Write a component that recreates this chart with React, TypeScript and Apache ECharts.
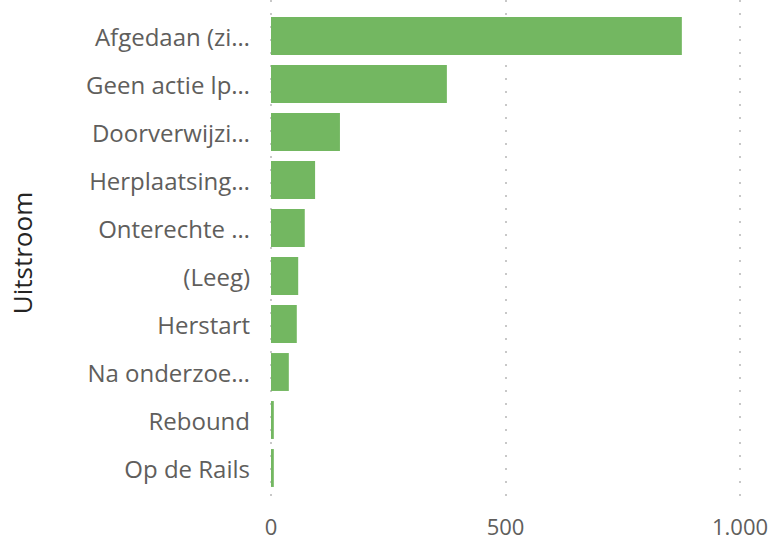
import React, { useEffect, useRef } from "react";
import * as echarts from "echarts";

const categories = [
  "Afgedaan (zi…",
  "Geen actie lp…",
  "Doorverwijzi…",
  "Herplaatsing…",
  "Onterechte …",
  "(Leeg)",
  "Herstart",
  "Na onderzoe…",
  "Rebound",
  "Op de Rails",
];
const values = [876, 375, 147, 94, 72, 58, 55, 38, 6, 6];
const axisTitle = "Uitstroom";
const xTicks = [0, 500, 1000];

const FONT = "'Open Sans', 'Noto Sans', sans-serif";

export default function App() {
  const ref = useRef<HTMLDivElement>(null);
  useEffect(() => {
    if (!ref.current) return;
    const chart = echarts.init(ref.current, null, { renderer: "svg" });
    chart.setOption({
      animation: false,
      backgroundColor: "#ffffff",
      grid: [
        { left: 271, right: 36, top: 12, bottom: 55, containLabel: false },
        { left: 271, right: 36, top: 0, bottom: 41, containLabel: false },
      ],
      xAxis: [
        { type: "value", gridIndex: 0, min: 0, max: 1000, show: false },
        {
          type: "value",
          gridIndex: 1,
          min: xTicks[0],
          max: xTicks[xTicks.length - 1],
          interval: 500,
          axisLine: { show: false },
          axisTick: { show: false },
          axisLabel: {
            color: "#605e5c",
            fontSize: 22,
            fontFamily: FONT,
            margin: 9,
            formatter: (v: number) => v.toLocaleString("de-DE"),
          },
          splitLine: {
            show: true,
            lineStyle: { color: "#c8c8c8", width: 2, type: [2, 11] },
          },
        },
      ],
      yAxis: [
        {
          type: "category",
          gridIndex: 0,
          data: categories,
          inverse: true,
          axisLine: { show: false },
          axisTick: { show: false },
          axisLabel: {
            color: "#605e5c",
            fontSize: 24,
            fontFamily: FONT,
            margin: 21,
          },
        },
        { type: "value", gridIndex: 1, min: 0, max: 1, show: false },
      ],
      graphic: [
        {
          type: "text",
          x: 22,
          y: 253,
          rotation: Math.PI / 2,
          style: {
            text: axisTitle,
            fill: "#252423",
            fontSize: 26,
            fontFamily: FONT,
            align: "center",
            verticalAlign: "middle",
          },
        },
      ],
      series: [
        {
          type: "bar",
          xAxisIndex: 0,
          yAxisIndex: 0,
          data: values,
          barCategoryGap: "21%",
          itemStyle: { color: "#73b761" },
          z: 3,
        },
        {
          type: "scatter",
          xAxisIndex: 1,
          yAxisIndex: 1,
          data: [],
        },
      ],
    });
    return () => chart.dispose();
  }, []);
  return (
    <div
      ref={ref}
      style={{ width: 776, height: 547, position: "absolute", left: 0, top: 0 }}
    />
  );
}
